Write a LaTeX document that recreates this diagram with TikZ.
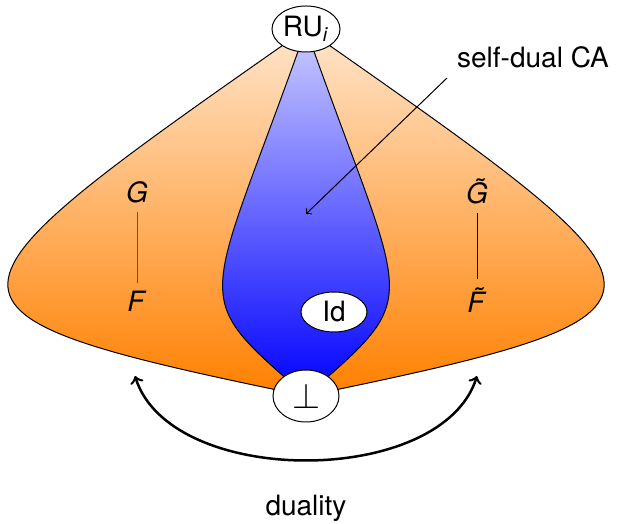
\documentclass[tikz,border=0pt]{standalone}
\usepackage{fontspec}
\setmainfont{TeX Gyre Heros}
\usetikzlibrary{shapes.geometric}
\begin{document}
\begin{tikzpicture}[x=0.4pt,y=-0.4pt, font=\fontsize{11.2}{13.4}\selectfont,
  ell/.style={ellipse, draw, fill=white, inner sep=0pt},
  letter/.style={anchor=base},
  region/.style={draw}]
\useasboundingbox (0,0) rectangle (620,524);
\coordinate (top) at (306,29);
\coordinate (bot) at (306,396);
\path[region, top color=orange!20, bottom color=orange]
  (top) .. controls (-81,300) and (-102,312) .. (bot)
        .. controls (714,312) and (693,300) .. (top) -- cycle;
\path[region, top color=blue!20, bottom color=blue]
  (top) .. controls (205,315) and (185,290) .. (bot)
        .. controls (427,290) and (407,315) .. (top) -- cycle;
\node[ell, minimum width=27.2pt, minimum height=18.4pt] (RU) at (top) {RU\textsubscript{\textit{i}}};
\node[ell, minimum width=26.4pt, minimum height=20.8pt] (bt) at (bot) {\Large$\bot$};
\node[ell, minimum width=26.4pt, minimum height=16pt] (Id) at (334,312) {Id};
\node[letter] (G) at (137,203) {\textit{G}};
\node[letter] (F) at (137,312) {\textit{F}};
\node[letter] (Gt) at (477,204) {\textit{\accent"02DC G}};
\node[letter] (Ft) at (477,313) {\textit{\accent"02DC F}};
\draw[draw opacity=0.55] (G) -- (F);
\draw (Gt) -- (Ft);
\node (sd) at (533,57) {self-dual CA};
\coordinate (sdstart) at (447,78);
\coordinate (sdend) at (306,214);
\draw[->] (sdstart) -- (sdend);
\coordinate (dl) at (135,376);
\coordinate (dr) at (477,376);
\draw[<->, line width=1pt] (dl) .. controls (170,488) and (442,488) .. (dr);
\node (dual) at (306,508) {duality};
\end{tikzpicture}
\end{document}
